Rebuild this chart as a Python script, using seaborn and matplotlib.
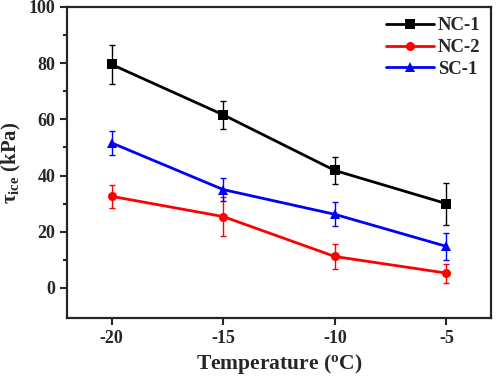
import pandas as pd
import numpy as np
import matplotlib.pyplot as plt
import seaborn as sns

# data
temperature = [-20, -15, -10, -5]
nc1 = [79.5, 61.6, 41.8, 30.0]
nc1_err = [6.8, 5.0, 4.8, 7.5]
nc2 = [32.6, 25.4, 11.2, 5.3]
nc2_err = [4.2, 6.9, 4.5, 3.4]
sc1 = [51.6, 35.0, 26.2, 14.8]
sc1_err = [4.2, 4.0, 4.3, 4.7]

series = ["NC-1", "NC-2", "SC-1"]
colors = {"NC-1": "black", "NC-2": "#ff0000", "SC-1": "#0000ff"}
markers = {"NC-1": "s", "NC-2": "o", "SC-1": "^"}

df = pd.DataFrame({
    "Temperature": temperature * 3,
    "tau": nc1 + nc2 + sc1,
    "err": nc1_err + nc2_err + sc1_err,
    "Sample": [s for s in series for _ in temperature],
})

sns.set_style("ticks")
plt.rcParams["font.family"] = ["Liberation Serif", "DejaVu Serif"]
plt.rcParams["font.weight"] = "bold"
plt.rcParams["axes.unicode_minus"] = False
plt.rcParams["mathtext.fontset"] = "custom"
plt.rcParams["mathtext.rm"] = "Liberation Serif:bold"
plt.rcParams["mathtext.it"] = "Liberation Serif:bold"
plt.rcParams["mathtext.bf"] = "Liberation Serif:bold"

fig, ax = plt.subplots(figsize=(5, 3.8), dpi=100)

sns.lineplot(data=df, x="Temperature", y="tau", hue="Sample", style="Sample",
             palette=colors, markers=markers, dashes=False, linewidth=2,
             markersize=6.5, markeredgewidth=0, ax=ax)

for s in series:
    sub = df[df["Sample"] == s]
    ax.errorbar(sub["Temperature"], sub["tau"], yerr=sub["err"], fmt="none",
                ecolor=colors[s], elinewidth=1, capsize=2.5, capthick=1)

ax.set_xlim(-22, -3)
ax.set_ylim(-10.7, 100)
ax.set_xticks(temperature)
ax.set_yticks([0, 20, 40, 60, 80, 100])
ax.set_yticks([10, 30, 50, 70, 90], minor=True)
ax.tick_params(axis="both", which="major", direction="out", length=5, width=1.5,
               labelsize=13)
ax.tick_params(axis="y", which="minor", direction="out", length=3, width=1.5)
for sp in ax.spines.values():
    sp.set_linewidth(1.6)

ax.set_xlabel(r"Temperature ($\mathregular{^{o}}$C)", fontsize=15.5, fontweight="bold")
ax.set_ylabel(r"$\mathregular{\tau_{ice}}$ (kPa)", fontsize=15, fontweight="bold")

leg = ax.legend(loc="upper right", frameon=False, fontsize=13.5, handlelength=2.6,
                borderaxespad=0.15, handletextpad=0.2, labelspacing=0.25)
for t in leg.get_texts():
    t.set_fontweight("bold")

plt.subplots_adjust(left=0.134, right=0.982, top=0.982, bottom=0.163)
plt.savefig("out.png", dpi=100)
